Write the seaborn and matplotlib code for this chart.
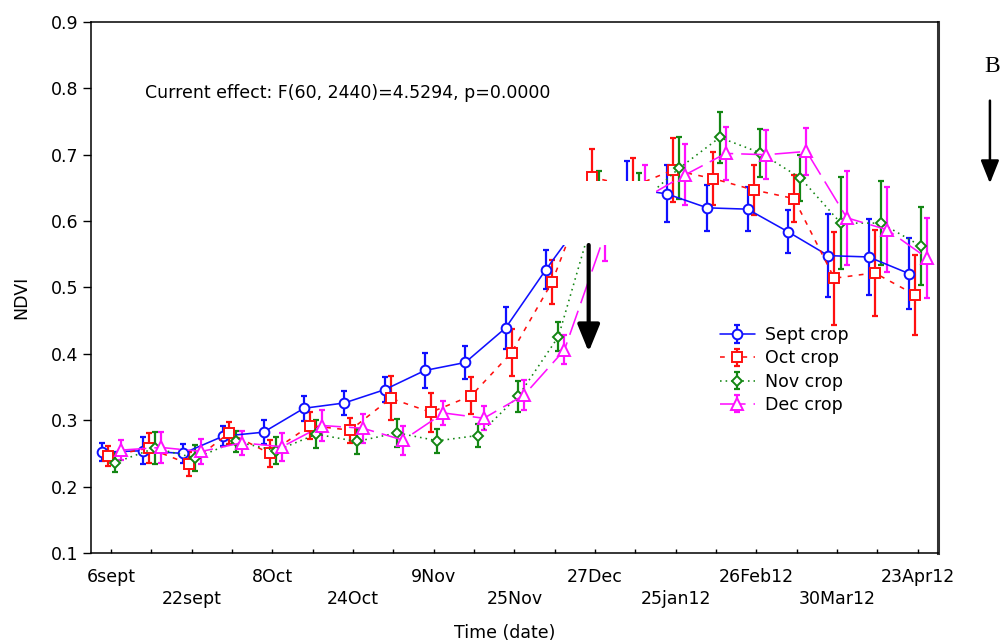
import numpy as np
import pandas as pd
import matplotlib
matplotlib.use("Agg")
import matplotlib.pyplot as plt
from matplotlib.patches import Rectangle
from matplotlib.container import ErrorbarContainer
import seaborn as sns

# 8-day composites, only every other one gets a date label
date_labels = ["6sept", "22sept", "8Oct", "24Oct", "9Nov", "25Nov",
               "27Dec", "25jan12", "26Feb12", "30Mar12", "23Apr12"]
n_steps = 21

crops = ["Sept crop", "Oct crop", "Nov crop", "Dec crop"]

sept = [0.252, 0.254, 0.250, 0.276, 0.282, 0.318, 0.326, 0.346, 0.375, 0.387, 0.439,
        0.527, 0.610, 0.650, 0.641, 0.620, 0.618, 0.584, 0.548, 0.546, 0.521]
sept_err = [0.013, 0.020, 0.014, 0.015, 0.018, 0.019, 0.018, 0.019, 0.026, 0.025, 0.032,
            0.030, 0.035, 0.040, 0.043, 0.035, 0.033, 0.032, 0.063, 0.057, 0.054]

octo = [0.246, 0.258, 0.234, 0.281, 0.250, 0.292, 0.285, 0.333, 0.312, 0.337, 0.402,
        0.508, 0.666, 0.652, 0.677, 0.664, 0.647, 0.634, 0.514, 0.522, 0.489]
octo_err = [0.015, 0.023, 0.018, 0.017, 0.020, 0.021, 0.019, 0.033, 0.029, 0.028, 0.035,
            0.033, 0.042, 0.043, 0.048, 0.040, 0.038, 0.036, 0.070, 0.065, 0.060]

nov = [0.236, 0.258, 0.243, 0.268, 0.254, 0.279, 0.268, 0.281, 0.269, 0.277, 0.336,
       0.426, 0.635, 0.626, 0.680, 0.726, 0.703, 0.665, 0.597, 0.597, 0.562]
nov_err = [0.014, 0.024, 0.019, 0.016, 0.020, 0.021, 0.019, 0.021, 0.018, 0.018, 0.023,
           0.022, 0.040, 0.047, 0.046, 0.038, 0.036, 0.035, 0.069, 0.063, 0.059]

dec = [0.255, 0.259, 0.253, 0.266, 0.260, 0.292, 0.288, 0.270, 0.311, 0.303, 0.338,
       0.406, 0.580, 0.635, 0.670, 0.702, 0.700, 0.705, 0.605, 0.587, 0.544]
dec_err = [0.015, 0.024, 0.019, 0.018, 0.021, 0.024, 0.022, 0.022, 0.018, 0.018, 0.023,
           0.022, 0.040, 0.050, 0.046, 0.040, 0.037, 0.036, 0.071, 0.064, 0.060]

values = {"Sept crop": sept, "Oct crop": octo, "Nov crop": nov, "Dec crop": dec}
errors = {"Sept crop": sept_err, "Oct crop": octo_err, "Nov crop": nov_err, "Dec crop": dec_err}

# styling
colors = {"Sept crop": "#1010ff", "Oct crop": "#ff1010", "Nov crop": "#138613", "Dec crop": "#ff10ff"}
markers = {"Sept crop": "o", "Oct crop": "s", "Nov crop": "D", "Dec crop": "^"}
msizes = {"Sept crop": 7, "Oct crop": 7, "Nov crop": 5.5, "Dec crop": 8.5}
dashes = {"Sept crop": (None, None), "Oct crop": (3, 4), "Nov crop": (1, 2.5), "Dec crop": (16, 5)}
shift = {"Sept crop": -0.22, "Oct crop": -0.07, "Nov crop": 0.09, "Dec crop": 0.24}

rows = []
for c in crops:
    for k in range(n_steps):
        rows.append({"crop": c, "step": k, "ndvi": values[c][k], "err": errors[c][k]})
df = pd.DataFrame(rows)
df["xpos"] = df["step"] + df["crop"].map(shift)

sns.set_theme(style="ticks")
plt.rcParams["font.family"] = ["DejaVu Sans"]
plt.rcParams["text.color"] = "black"
plt.rcParams["axes.labelcolor"] = "black"

fig = plt.figure(figsize=(10.05, 6.41), dpi=100)
ax = fig.add_axes([0.0905, 0.1373, 0.8428, 0.8284])

handles = []
for c in crops:
    d = df[df["crop"] == c]
    eb = ax.errorbar(d["xpos"], d["ndvi"], yerr=d["err"], fmt="none", ecolor=colors[c],
                     elinewidth=1.6, capsize=2.2, capthick=1.6, zorder=2)
    sns.lineplot(data=d, x="xpos", y="ndvi", color=colors[c], marker=markers[c],
                 markersize=msizes[c], markerfacecolor="white", markeredgecolor=colors[c],
                 markeredgewidth=1.4, linewidth=1.15, ax=ax, legend=False, zorder=3,
                 sort=False)
    line = ax.lines[-1]
    if dashes[c][0] is not None:
        line.set_dashes(dashes[c])
    # legend entry: the series line together with its error bars
    handles.append(ErrorbarContainer((line, eb[1], eb[2]), has_xerr=False, has_yerr=True))

# white patch hiding part of the December/January section, as in the original
ax.add_patch(Rectangle((11.14, 0.564), 2.36, 0.096, facecolor="white",
                       edgecolor="none", zorder=5))

ax.set_xlim(-0.5, 20.5)
ax.set_ylim(0.1, 0.9)
ax.set_yticks(np.arange(0.1, 0.91, 0.1))
ax.set_yticklabels([f"{v:.1f}" for v in np.arange(0.1, 0.91, 0.1)])
ax.set_xticks(range(n_steps))
xl = [""] * n_steps
for i, lab in enumerate(date_labels):
    xl[2 * i] = lab
ax.set_xticklabels(xl)

ax.tick_params(axis="x", direction="in", length=3, width=1, labelsize=12.5, colors="black")
ax.tick_params(axis="y", direction="out", length=6, width=1, pad=3, labelsize=12.5, colors="black")
for k, t in enumerate(ax.xaxis.get_major_ticks()):
    t.set_pad(27 if k % 4 == 2 else 11)

ax.set_xlabel("Time (date)", fontsize=12.5)
ax.set_ylabel("NDVI", fontsize=12.5)
ax.xaxis.set_label_coords(0.489, -0.134)
ax.yaxis.set_label_coords(-0.072, 0.482)

for s in ["left", "bottom", "top"]:
    ax.spines[s].set_color("black")
    ax.spines[s].set_linewidth(1.1)
ax.spines["right"].set_color("#333333")
ax.spines["right"].set_linewidth(2.2)

ax.text(0.064, 0.866, "Current effect: F(60, 2440)=4.5294, p=0.0000",
        transform=ax.transAxes, fontsize=12.5, va="center", ha="left")

# arrow A inside the plot
ax.annotate("", xy=(11.84, 0.403), xytext=(11.84, 0.564),
            arrowprops=dict(arrowstyle="-|>,head_length=1.1,head_width=0.45", lw=3,
                            color="black", mutation_scale=15, shrinkA=0, shrinkB=0),
            zorder=6)
ax.text(11.84, 0.614, "A", fontsize=19, family="Liberation Serif", ha="center", va="center")

# arrow B outside on the right
fig.text(0.987, 0.896, "B", fontsize=17, family="Liberation Serif", ha="center", va="center")
ax.annotate("", xy=(0.985, 0.714), xytext=(0.985, 0.843), xycoords="figure fraction",
            textcoords="figure fraction",
            arrowprops=dict(arrowstyle="-|>,head_length=1.0,head_width=0.4", lw=1.8,
                            color="black", mutation_scale=14, shrinkA=0, shrinkB=0),
            annotation_clip=False)

ax.legend(handles, crops, loc="upper left", bbox_to_anchor=(0.7426, 0.427), frameon=False,
          fontsize=12.5, borderpad=0, borderaxespad=0, labelspacing=0.3,
          handlelength=2.0, handletextpad=0.6)

fig.savefig("out.png", dpi=100)
